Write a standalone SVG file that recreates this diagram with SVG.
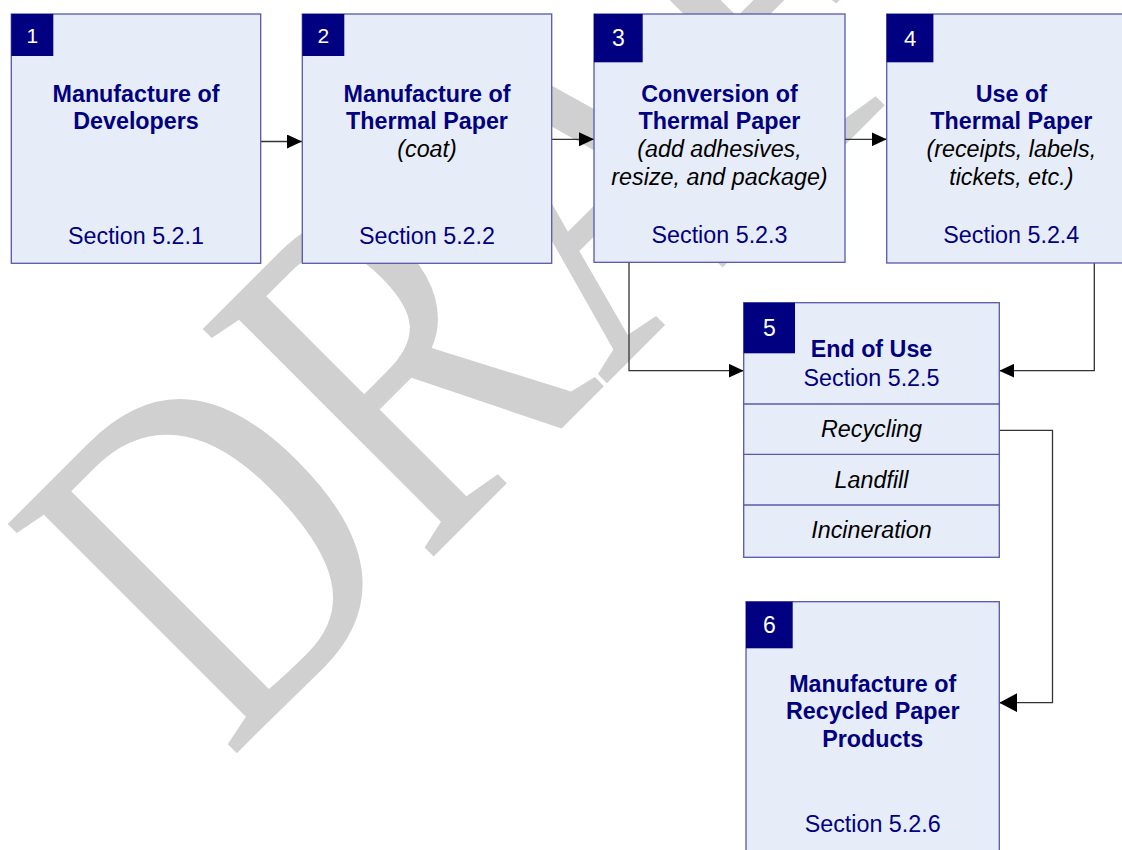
<svg xmlns="http://www.w3.org/2000/svg" width="1122" height="850" viewBox="0 0 1122 850">
<style>
.box{fill:#E7EDF8;stroke:#5858AE;stroke-width:1.3}
.badge{fill:#000080}
.num{font-family:"Liberation Sans",Arial,sans-serif;fill:#FFFFFF;text-anchor:middle}
.t{font-family:"Liberation Sans",Arial,sans-serif;font-size:23.3px;text-anchor:middle}
.b{font-weight:bold;fill:#000080}
.s{fill:#000080}
.i{font-style:italic;fill:#000000}
.conn{fill:none;stroke:#333333;stroke-width:1.3}
.wm{font-family:"Liberation Serif","Times New Roman",serif;font-size:100px;fill:#D0D0D0}
</style>
<defs>
<marker id="arr" viewBox="0 0 15 14" refX="15" refY="7" markerWidth="15" markerHeight="14" orient="auto" markerUnits="userSpaceOnUse">
<path d="M0,0 L15,7 L0,14 Z" fill="#000000"/>
</marker>
<marker id="arrBig" viewBox="0 0 18 19" refX="18" refY="9.5" markerWidth="18" markerHeight="19" orient="auto" markerUnits="userSpaceOnUse">
<path d="M0,0 L18,9.5 L0,19 Z" fill="#000000"/>
</marker>
</defs>
<rect width="1122" height="850" fill="#FFFFFF"/>
<g id="watermark">
<text class="wm" transform="translate(229.1,761) rotate(-45) scale(3.82,4.95)">DRAFT</text>
</g>
<g id="connectors">
<path class="conn" d="M260.7,141.5 H302" marker-end="url(#arr)"/>
<path class="conn" d="M551.7,139.3 H594" marker-end="url(#arr)"/>
<path class="conn" d="M845,139.3 H886.7" marker-end="url(#arr)"/>
<path class="conn" d="M629,262.3 V370.7 H743.7" marker-end="url(#arr)"/>
<path class="conn" d="M1094.3,263 V370.7 H999.3" marker-end="url(#arr)"/>
<path class="conn" d="M999.3,430.3 H1052.5 V702.7 H999.3" marker-end="url(#arrBig)"/>
</g>
<g id="node1">
<rect class="box" x="11.3" y="14" width="249.4" height="249.3"/>
<rect class="badge" x="11.3" y="14" width="42" height="42"/>
<text class="num" x="32.3" y="42.6" font-size="21">1</text>
<text class="t b" x="136" y="101.7">Manufacture of</text>
<text class="t b" x="136" y="129.4">Developers</text>
<text class="t s" x="136" y="243.8">Section 5.2.1</text>
</g>
<g id="node2">
<rect class="box" x="302.3" y="14" width="249.4" height="249.3"/>
<rect class="badge" x="302.3" y="14" width="42" height="42"/>
<text class="num" x="323.3" y="42.6" font-size="21">2</text>
<text class="t b" x="427" y="101.7">Manufacture of</text>
<text class="t b" x="427" y="129.4">Thermal Paper</text>
<text class="t i" x="427" y="157.1">(coat)</text>
<text class="t s" x="427" y="243.5">Section 5.2.2</text>
</g>
<g id="node3">
<rect class="box" x="594" y="14" width="251" height="248.3"/>
<rect class="badge" x="594" y="14" width="48.7" height="48.3"/>
<text class="num" x="618.3" y="46.4" font-size="23">3</text>
<text class="t b" x="719.5" y="101.7">Conversion of</text>
<text class="t b" x="719.5" y="129.4">Thermal Paper</text>
<text class="t i" x="719.5" y="157">(add adhesives,</text>
<text class="t i" x="719.5" y="184.8">resize, and package)</text>
<text class="t s" x="719.5" y="243">Section 5.2.3</text>
</g>
<g id="node4">
<rect class="box" x="886.7" y="14" width="249.4" height="249"/>
<rect class="badge" x="886.7" y="14" width="46.7" height="48.3"/>
<text class="num" x="910" y="46" font-size="22">4</text>
<text class="t b" x="1011.3" y="101.7">Use of</text>
<text class="t b" x="1011.3" y="129.4">Thermal Paper</text>
<text class="t i" x="1011.3" y="157">(receipts, labels,</text>
<text class="t i" x="1011.3" y="184.8">tickets, etc.)</text>
<text class="t s" x="1011.3" y="243.3">Section 5.2.4</text>
</g>
<g id="node5">
<rect class="box" x="743.7" y="302.7" width="255.6" height="254.6"/>
<line class="box" x1="743.7" y1="404" x2="999.3" y2="404"/>
<line class="box" x1="743.7" y1="454.3" x2="999.3" y2="454.3"/>
<line class="box" x1="743.7" y1="505" x2="999.3" y2="505"/>
<rect class="badge" x="743.7" y="302.7" width="51.3" height="50.6"/>
<text class="num" x="769.3" y="336.3" font-size="23">5</text>
<text class="t b" x="871.5" y="357.3">End of Use</text>
<text class="t s" x="871.5" y="385.6">Section 5.2.5</text>
<text class="t i" x="871.5" y="436.5">Recycling</text>
<text class="t i" x="871.5" y="487.5">Landfill</text>
<text class="t i" x="871.5" y="537.7">Incineration</text>
</g>
<g id="node6">
<rect class="box" x="746" y="601.7" width="253.3" height="260"/>
<rect class="badge" x="746" y="601.7" width="46.7" height="46.6"/>
<text class="num" x="769.3" y="633.2" font-size="23">6</text>
<text class="t b" x="872.7" y="691.7">Manufacture of</text>
<text class="t b" x="872.7" y="719.3">Recycled Paper</text>
<text class="t b" x="872.7" y="746.8">Products</text>
<text class="t s" x="872.7" y="832.3">Section 5.2.6</text>
</g>
</svg>
